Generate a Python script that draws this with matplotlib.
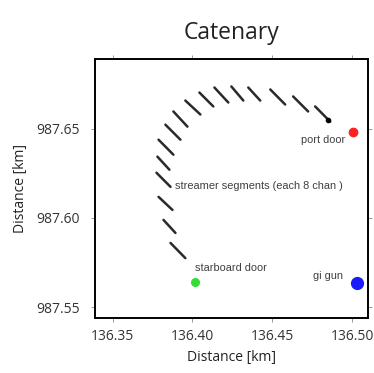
import numpy as np
import matplotlib.pyplot as plt

# streamer segment end points (km), starboard end first
seg_x0 = [136.3863, 136.3819, 136.3788, 136.3775, 136.3781, 136.3788, 136.3831, 136.3881,
          136.3956, 136.4044, 136.4138, 136.4244, 136.4350, 136.4488, 136.4631, 136.4769]
seg_x1 = [136.3956, 136.3894, 136.3875, 136.3863, 136.3856, 136.3881, 136.3925, 136.3969,
          136.4050, 136.4131, 136.4225, 136.4319, 136.4425, 136.4581, 136.4725, 136.4863]
seg_y0 = [987.5860, 987.5989, 987.6118, 987.6253, 987.6343, 987.6438, 987.6522, 987.6596,
          987.6657, 987.6702, 987.6730, 987.6736, 987.6730, 987.6719, 987.6680, 987.6624]
seg_y1 = [987.5775, 987.5916, 987.6045, 987.6174, 987.6270, 987.6354, 987.6438, 987.6511,
          987.6579, 987.6624, 987.6646, 987.6657, 987.6657, 987.6635, 987.6596, 987.6539]

lead_x, lead_y = 136.4850, 987.6550
port_door = (136.5006, 987.6483)
stbd_door = (136.4019, 987.5640)
gi_gun = (136.5031, 987.5635)

xticks = [136.35, 136.40, 136.45, 136.50]
yticks = [987.55, 987.60, 987.65]

fig = plt.figure(figsize=(3.74, 3.73), dpi=100)
ax = fig.add_axes([0.254, 0.1475, 0.730, 0.6945])

for x0, x1, y0, y1 in zip(seg_x0, seg_x1, seg_y0, seg_y1):
    ax.plot([x0, x1], [y0, y1], color='#2a2a2a', lw=1.8, solid_capstyle='round')
ax.plot(lead_x, lead_y, 'o', color='black', ms=3)

ax.plot(*port_door, 'o', color='#ff2020', ms=6)
ax.plot(*stbd_door, 'o', color='#33dd33', ms=5.5)
ax.plot(*gi_gun, 'o', color='#1a1aff', ms=8.5)

tfont = dict(family='Liberation Sans', fontsize=7.9, color='#404040')
ax.text(136.4956, 987.6438, 'port door', ha='right', va='center', **tfont)
ax.text(136.3894, 987.6180, 'streamer segments (each 8 chan )', ha='left', va='center', **tfont)
ax.text(136.4019, 987.5719, 'starboard door', ha='left', va='center', **tfont)
ax.text(136.4756, 987.5674, 'gi gun', ha='left', va='center', **tfont)

ax.set_xlim(136.339, 136.510)
ax.set_ylim(987.544, 987.689)
ax.set_xticks(xticks)
ax.set_yticks(yticks)
ax.set_xticklabels(['%.2f' % v for v in xticks], family='Open Sans', fontsize=10, color='#333333')
ax.set_yticklabels(['%.2f' % v for v in yticks], family='Open Sans', fontsize=10, color='#333333')
ax.tick_params(direction='out', length=3, width=0.6, color='#888888', top=True, right=True)
ax.tick_params(axis='y', pad=8)
ax.tick_params(axis='x', pad=5)
for s in ax.spines.values():
    s.set_linewidth(1.4)

ax.set_xlabel('Distance [km]', family='Open Sans', fontsize=10, color='#222222', labelpad=4)
ax.set_ylabel('Distance [km]', family='Open Sans', fontsize=10, color='#222222', labelpad=6)
ax.set_title('Catenary', family='Open Sans', fontsize=16.5, color='#222222', pad=14)

fig.savefig('out.png', dpi=100)
